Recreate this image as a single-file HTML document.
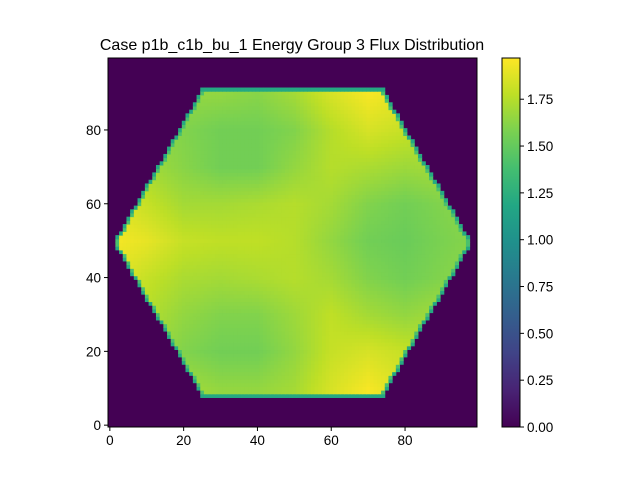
<!DOCTYPE html>
<html><head><meta charset="utf-8"><style>
body{margin:0;background:#fff;}
svg text{font-family:"Liberation Sans",sans-serif;fill:#000;}
</style></head><body>
<svg id="chart" width="640" height="480" viewBox="0 0 640 480" xmlns="http://www.w3.org/2000/svg">
<text x="292" y="50" font-size="16" text-anchor="middle">Case p1b_c1b_bu_1 Energy Group 3 Flux Distribution</text>
<g id="cells"></g>
<g id="axes"></g>
<g id="cbar"></g>
</svg>
<script>
// coarse flux samples, rows y = 0,10,...,100 ; cols x = 0,10,...,100
const gridY = [0,10,20,30,40,50,60,70,80,90,100];
const gridX = [0,10,20,30,40,50,60,70,80,90,100];
const fluxGrid = [
[1.80,1.75,1.70,1.65,1.65,1.70,1.85,1.95,1.85,1.80,1.80],
[1.80,1.75,1.70,1.65,1.65,1.70,1.85,1.95,1.85,1.80,1.80],
[1.75,1.70,1.60,1.55,1.55,1.65,1.80,1.85,1.80,1.75,1.75],
[1.80,1.75,1.65,1.60,1.60,1.68,1.78,1.70,1.65,1.70,1.70],
[1.90,1.80,1.72,1.70,1.72,1.75,1.70,1.60,1.55,1.60,1.65],
[1.95,1.90,1.80,1.78,1.78,1.75,1.65,1.55,1.52,1.58,1.62],
[1.90,1.80,1.70,1.70,1.72,1.75,1.70,1.60,1.55,1.60,1.65],
[1.80,1.70,1.62,1.55,1.55,1.65,1.75,1.72,1.68,1.70,1.70],
[1.70,1.65,1.60,1.55,1.55,1.60,1.75,1.85,1.80,1.75,1.75],
[1.70,1.65,1.65,1.65,1.62,1.70,1.85,1.95,1.90,1.80,1.80],
[1.70,1.65,1.65,1.65,1.62,1.70,1.85,1.95,1.90,1.80,1.80]
];
const edgeValue = 1.2;
const sideEdgeValue = 1.4;
const vmax = 1.97;
const xTicks = [0,20,40,60,80];
const yTicks = [0,20,40,60,80];
const cbarTicks = ["0.00","0.25","0.50","0.75","1.00","1.25","1.50","1.75"];

const NS="http://www.w3.org/2000/svg";
const X0=108, X1=477, Y0=58, Y1=427, N=100;
const cw=(X1-X0)/N;
const sx=v=>X0+(v+0.5)*cw;
const sy=v=>Y1-(v+0.5)*cw;
const vir=[[68,1,84],[72,35,116],[64,67,135],[52,94,141],[41,120,142],[32,144,140],[34,167,132],[68,190,112],[121,209,81],[189,223,38],[253,231,37]];
function cmap(v){let t=Math.max(0,Math.min(1,v/vmax))*(vir.length-1);let i=Math.min(Math.floor(t),vir.length-2),f=t-i;
 const c=vir[i].map((a,k)=>Math.round(a+(vir[i+1][k]-a)*f));return `rgb(${c})`;}
function inside(x,y){const dy=Math.abs(y-49.5);if(dy>41.5)return false;return Math.abs(x-49.5)<=48.5-(24/41.5)*dy;}
function sample(x,y){const gx=Math.min(x/10,9.999),gy=Math.min(y/10,9.999);const i=Math.floor(gy),j=Math.floor(gx),fy=gy-i,fx=gx-j;
 const a=fluxGrid[i][j],b=fluxGrid[i][j+1],c=fluxGrid[i+1][j],d=fluxGrid[i+1][j+1];
 return (a*(1-fx)+b*fx)*(1-fy)+(c*(1-fx)+d*fx)*fy;}
const cells=document.getElementById('cells');
const bg=document.createElementNS(NS,'rect');
bg.setAttribute('x',X0);bg.setAttribute('y',Y0);bg.setAttribute('width',X1-X0);bg.setAttribute('height',Y1-Y0);bg.setAttribute('fill',cmap(0));


cells.appendChild(bg);
for(let y=0;y<N;y++)for(let x=0;x<N;x++){
 if(!inside(x,y))continue;
 let v;
 const tb=!inside(x,y-1)||!inside(x,y+1);
 const side=!inside(x-1,y)||!inside(x+1,y);
 v=tb?edgeValue:(side?sideEdgeValue:sample(x,y));
 const r=document.createElementNS(NS,'rect');
 r.setAttribute('x',(sx(x)-cw/2).toFixed(2));r.setAttribute('y',(sy(y)-cw/2).toFixed(2));
 r.setAttribute('width',(cw+0.5).toFixed(2));r.setAttribute('height',(cw+0.5).toFixed(2));
 r.setAttribute('fill',cmap(v));
 
 
 cells.appendChild(r);}
const ax=document.getElementById('axes');
function add(p,tag,attrs,txt){const e=document.createElementNS(NS,tag);for(const k in attrs)e.setAttribute(k,attrs[k]);if(txt!==undefined)e.textContent=txt;p.appendChild(e);return e;}
const fr=add(ax,'rect',{x:X0,y:Y0,width:X1-X0,height:Y1-Y0,fill:'none',stroke:'#000','stroke-width':1});


xTicks.forEach(t=>{const px=sx(t);add(ax,'line',{x1:px,x2:px,y1:Y1,y2:Y1+4,stroke:'#000'});
 const l=add(ax,'text',{x:px,y:Y1+18,'font-size':13.5,'text-anchor':'middle'},String(t));
 
 });
yTicks.forEach(t=>{const py=sy(t);add(ax,'line',{x1:X0-4,x2:X0,y1:py,y2:py,stroke:'#000'});
 const l=add(ax,'text',{x:X0-7,y:py+5,'font-size':13.5,'text-anchor':'end'},String(t));
 
 });
const cb=document.getElementById('cbar');const CX=502,CW=18;
const defs=add(cb,'defs',{});const g=add(defs,'linearGradient',{id:'vg',x1:0,y1:1,x2:0,y2:0});
vir.forEach((c,i)=>add(g,'stop',{offset:i/(vir.length-1),'stop-color':`rgb(${c})`}));
const cr=add(cb,'rect',{x:CX,y:Y0,width:CW,height:Y1-Y0,fill:'url(#vg)',stroke:'#000'});


cbarTicks.forEach(t=>{const py=Y1-parseFloat(t)/vmax*(Y1-Y0);add(cb,'line',{x1:CX+CW,x2:CX+CW+4,y1:py,y2:py,stroke:'#000'});
 const l=add(cb,'text',{x:CX+CW+7,y:py+5,'font-size':13.5},t);
 
 });
</script>
</body></html>
